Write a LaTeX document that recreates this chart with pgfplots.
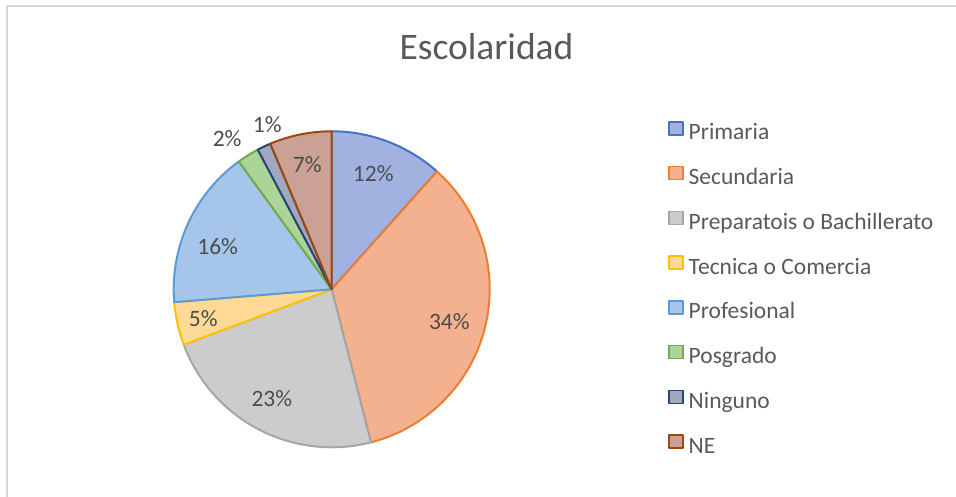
\documentclass[border=0pt]{standalone}
\usepackage{pgfplots}
\pgfplotsset{compat=1.18}
\usepackage{pgfplotstable}
\usepackage{fontspec}
\setmainfont{Carlito}
\definecolor{pf0}{HTML}{A2B2E0}\definecolor{pe0}{HTML}{4472C4}
\definecolor{pf1}{HTML}{F4B190}\definecolor{pe1}{HTML}{ED7D31}
\definecolor{pf2}{HTML}{CCCCCC}\definecolor{pe2}{HTML}{A5A5A5}
\definecolor{pf3}{HTML}{FFDA96}\definecolor{pe3}{HTML}{FFC000}
\definecolor{pf4}{HTML}{A5C5EA}\definecolor{pe4}{HTML}{5B9BD5}
\definecolor{pf5}{HTML}{ACD49A}\definecolor{pe5}{HTML}{70AD47}
\definecolor{pf6}{HTML}{A0A8C0}\definecolor{pe6}{HTML}{264478}
\definecolor{pf7}{HTML}{CBA095}\definecolor{pe7}{HTML}{9E480E}
\definecolor{lbl}{HTML}{4D4D4D}
\definecolor{lgtext}{HTML}{595959}
\definecolor{frame}{HTML}{D9D9D9}
\newcommand\lblfont{\fontsize{23.5}{27}\selectfont}
\newcommand\titlefont{\fontsize{37.5}{42}\selectfont}
\pgfplotstableread[col sep=comma]{
name,pct,txt,la,lr
Primaria,11.6,12,70.2,122.6
Secundaria,34.4,34,-15.4,122
Preparatois o Bachillerato,23.3,23,-118.6,125
Tecnica o Comercia,4.4,5,192.7,131.6
Profesional,16.3,16,159.5,121.7
Posgrado,2.25,2,124.7,183.6
Ninguno,1.4,1,111.4,176.5
NE,6.35,7,101.1,126.7
}\datatable
\def\cx{331.7}\def\cy{207.7}\def\R{158}
\begin{document}
\begin{tikzpicture}
\useasboundingbox (0,0) rectangle (956pt,497pt);
\begin{axis}[hide axis, scale only axis, width=956pt, height=497pt,
  xmin=0, xmax=956, ymin=0, ymax=497, clip=false, at={(0,0)}, anchor=south west,
  legend cell align=left,
  legend image code/.code={\draw[#1, line width=1.5pt] (0pt,-0.5pt) rectangle (14pt,12.5pt);},
  legend style={at={(axis cs:668,376)}, anchor=north west, draw=none, fill=none,
    inner sep=0pt, row sep=21pt, font=\lblfont, text=lgtext,
    nodes={inner sep=0pt, text height=16pt, text depth=5pt},
    /tikz/every odd column/.append style={column sep=5pt}},
]
\draw[color=frame, line width=1.5pt] (axis cs:7,0) -- (axis cs:7,491) -- (axis cs:956,491);
\node[font=\titlefont, text=lgtext, anchor=base] at (axis cs:486.5,437) {Escolaridad};
\pgfplotstablegetrowsof{\datatable}
\pgfmathtruncatemacro\N{\pgfplotsretval-1}
\def\astart{90}
\pgfplotsforeachungrouped \i in {0,...,\N}{%
  \pgfplotstablegetelem{\i}{pct}\of\datatable \let\p\pgfplotsretval
  \pgfplotstablegetelem{\i}{name}\of\datatable \let\nm\pgfplotsretval
  \pgfplotstablegetelem{\i}{txt}\of\datatable \let\tx\pgfplotsretval
  \pgfplotstablegetelem{\i}{la}\of\datatable \let\la\pgfplotsretval
  \pgfplotstablegetelem{\i}{lr}\of\datatable \let\lr\pgfplotsretval
  \pgfmathsetmacro\aend{\astart-3.6*\p}
  \pgfmathsetmacro\lx{\cx+\lr*cos(\la)}
  \pgfmathsetmacro\ly{\cy+\lr*sin(\la)}
  \edef\cmd{%
    \noexpand\addplot[fill=pf\i, draw=pe\i, line width=2pt, line join=round,
      domain=\aend:\astart, samples=80, variable=\noexpand\t]
      ({\cx+\R*cos(\noexpand\t)},{\cy+\R*sin(\noexpand\t)}) -- (axis cs:\cx,\cy) -- cycle;
    \noexpand\addlegendentry{\nm}
    \noexpand\node[font=\noexpand\lblfont, text=lbl] at (axis cs:\lx,\ly) {\tx\noexpand\%};
  }\cmd
  \global\let\astart\aend
}
\end{axis}
\end{tikzpicture}
\end{document}
